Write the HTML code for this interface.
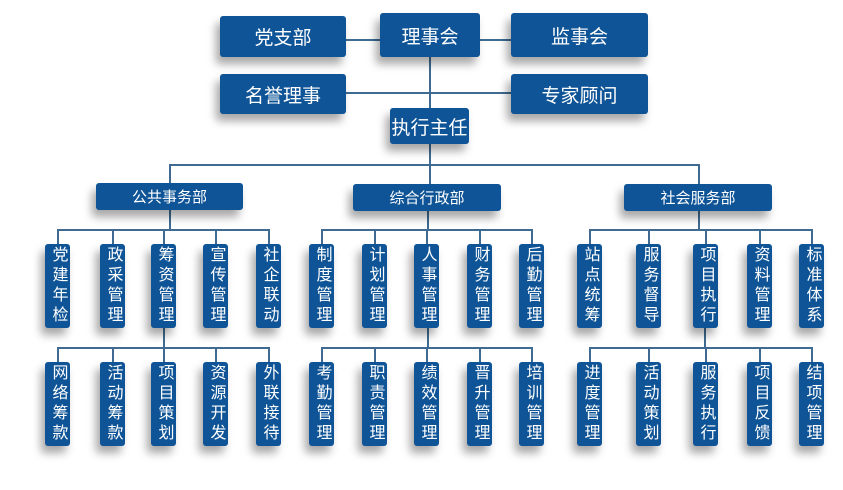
<!DOCTYPE html>
<html><head><meta charset="utf-8"><style>
body{margin:0;width:843px;height:490px;background:#fff;position:relative;overflow:hidden;font-family:"Liberation Sans","Noto Sans CJK SC",sans-serif}
.b{position:absolute;background:#0f5496;color:#fff;border-radius:3px;box-shadow:-4px 7px 9px rgba(0,0,0,0.35);display:flex;align-items:center;justify-content:center;text-align:center}
.h{font-size:19px}
.m{font-size:15px}
.v{width:25px;font-size:16px;line-height:18px;writing-mode:vertical-rl;letter-spacing:4px;align-items:center}
.l{position:absolute;background:#3f6b92}
</style></head><body>
<div class="l" style="left:346px;top:39px;width:34px;height:1.5px"></div>
<div class="l" style="left:480px;top:39px;width:31px;height:1.5px"></div>
<div class="l" style="left:429px;top:57px;width:1.5px;height:51px"></div>
<div class="l" style="left:346px;top:92px;width:165px;height:1.5px"></div>
<div class="l" style="left:429px;top:144px;width:1.5px;height:40px"></div>
<div class="l" style="left:169px;top:164px;width:530px;height:1.5px"></div>
<div class="l" style="left:169px;top:164px;width:1.5px;height:20px"></div>
<div class="l" style="left:698px;top:164px;width:1.5px;height:20px"></div>
<div class="l" style="left:169px;top:210px;width:1.5px;height:19px"></div>
<div class="l" style="left:427px;top:210px;width:1.5px;height:19px"></div>
<div class="l" style="left:698px;top:210px;width:1.5px;height:19px"></div>
<div class="l" style="left:57px;top:229px;width:211px;height:1.5px"></div>
<div class="l" style="left:321px;top:229px;width:211px;height:1.5px"></div>
<div class="l" style="left:589px;top:229px;width:222px;height:1.5px"></div>
<div class="l" style="left:163px;top:328px;width:1.5px;height:19px"></div>
<div class="l" style="left:427px;top:328px;width:1.5px;height:19px"></div>
<div class="l" style="left:704px;top:328px;width:1.5px;height:19px"></div>
<div class="l" style="left:57px;top:347px;width:211px;height:1.5px"></div>
<div class="l" style="left:321px;top:347px;width:211px;height:1.5px"></div>
<div class="l" style="left:589px;top:347px;width:222px;height:1.5px"></div>
<div id="cols"></div>
<div class="b h" style="left:220px;top:16px;width:126px;height:41px">党支部</div>
<div class="b h" style="left:380px;top:13px;width:100px;height:44px">理事会</div>
<div class="b h" style="left:511px;top:13px;width:137px;height:44px">监事会</div>
<div class="b h" style="left:220px;top:74px;width:126px;height:40px">名誉理事</div>
<div class="b h" style="left:511px;top:74px;width:137px;height:40px">专家顾问</div>
<div class="b h" style="left:390px;top:108px;width:79px;height:36px">执行主任</div>
<div class="b m" style="left:96px;top:183px;width:147px;height:27px">公共事务部</div>
<div class="b m" style="left:353px;top:184px;width:148px;height:27px">综合行政部</div>
<div class="b m" style="left:624px;top:184px;width:148px;height:27px">社会服务部</div>
<script>
var xs=[45,100,151,203,256,309,362,414,467,519,577,636,693,747,799];
var t1=["党建年检","政采管理","筹资管理","宣传管理","社企联动","制度管理","计划管理","人事管理","财务管理","后勤管理","站点统筹","服务督导","项目执行","资料管理","标准体系"];
var t2=["网络筹款","活动筹款","项目策划","资源开发","外联接待","考勤管理","职责管理","绩效管理","晋升管理","培训管理","进度管理","活动策划","服务执行","项目反馈","结项管理"];
var h="";
xs.forEach(function(x,i){
h+='<div class="l" style="left:'+(x+12)+'px;top:229px;width:1.5px;height:15px"></div>';
h+='<div class="l" style="left:'+(x+12)+'px;top:347px;width:1.5px;height:15px"></div>';
h+='<div class="b v" style="left:'+x+'px;top:244px;height:84px">'+t1[i]+'</div>';
h+='<div class="b v" style="left:'+x+'px;top:362px;height:84px">'+t2[i]+'</div>';
});
document.getElementById("cols").innerHTML=h;
</script>
</body></html>
